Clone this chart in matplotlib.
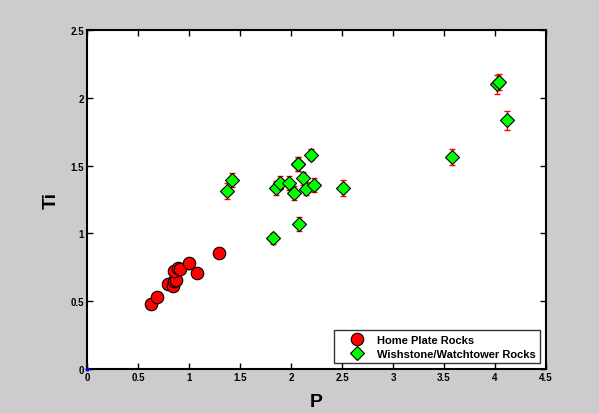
import numpy as np
import matplotlib
matplotlib.use('Agg')
import matplotlib.pyplot as plt

plt.rcParams['font.family'] = ['Liberation Sans', 'DejaVu Sans']
plt.rcParams['font.weight'] = 'bold'

# Home Plate rocks
hp_p = [0.63, 0.69, 0.79, 0.84, 0.85, 0.87, 0.85, 0.89, 0.91, 1.00, 1.08, 1.29]
hp_ti = [0.48, 0.53, 0.63, 0.61, 0.65, 0.66, 0.72, 0.745, 0.74, 0.78, 0.71, 0.855]
hp_err = [0.03, 0.03, 0.03, 0.03, 0.03, 0.03, 0.03, 0.03, 0.03, 0.04, 0.03, 0.04]

# Wishstone / Watchtower rocks
ws_p = [1.37, 1.42, 1.82, 1.85, 1.89, 1.98, 2.03, 2.07, 2.07, 2.08, 2.12, 2.15,
        2.20, 2.23, 2.51, 3.58, 4.02, 4.04, 4.12]
ws_ti = [1.315, 1.395, 0.965, 1.335, 1.375, 1.37, 1.30, 1.51, 1.51, 1.07, 1.405, 1.33,
         1.58, 1.355, 1.335, 1.565, 2.10, 2.115, 1.835]
ws_err = [0.06, 0.05, 0.04, 0.05, 0.05, 0.05, 0.05, 0.05, 0.05, 0.05, 0.05, 0.05,
          0.04, 0.05, 0.06, 0.06, 0.07, 0.06, 0.07]

fig = plt.figure(figsize=(5.99, 4.14), dpi=100, facecolor='#cccccc')
ax = fig.add_axes([87/599, 1-370/414, (546-87)/599, (370-31)/414])

ax.errorbar(hp_p, hp_ti, yerr=hp_err, fmt='none', ecolor='red', elinewidth=1, capsize=2.5, zorder=2)
ax.errorbar(ws_p, ws_ti, yerr=ws_err, fmt='none', ecolor='red', elinewidth=1, capsize=2.5, zorder=2)
ax.plot(hp_p, hp_ti, 'o', ms=9, mfc='red', mec='black', mew=0.8, ls='none',
        label='Home Plate Rocks', zorder=3)
ax.plot(ws_p, ws_ti, 'D', ms=7, mfc='#00ff00', mec='black', mew=0.8, ls='none',
        label='Wishstone/Watchtower Rocks', zorder=3)
ax.plot([0], [0], '.', color='blue', ms=4, clip_on=False, zorder=4)

ax.set_xlim(0, 4.5)
ax.set_ylim(0, 2.5)
ax.set_xticks(np.arange(0, 4.51, 0.5))
ax.set_yticks(np.arange(0, 2.51, 0.5))
ax.set_xticklabels(['0', '0.5', '1', '1.5', '2', '2.5', '3', '3.5', '4', '4.5'])
ax.set_yticklabels(['0', '0.5', '1', '1.5', '2', '2.5'])
ax.tick_params(direction='in', length=4, width=1, labelsize=7, top=True, right=True, pad=2)
for s in ax.spines.values():
    s.set_linewidth(1.5)

ax.set_xlabel('P', fontsize=14, fontweight='bold', labelpad=8)
ax.set_ylabel('Ti', fontsize=14, fontweight='bold', labelpad=8)

leg = ax.legend(loc='lower right', fontsize=8, frameon=True, fancybox=False,
                edgecolor='black', borderpad=0.4, handlelength=3.3, handletextpad=0.2,
                borderaxespad=0.5, labelspacing=0.4)
leg.get_frame().set_linewidth(1)

fig.savefig('out.png', dpi=100, facecolor=fig.get_facecolor())
